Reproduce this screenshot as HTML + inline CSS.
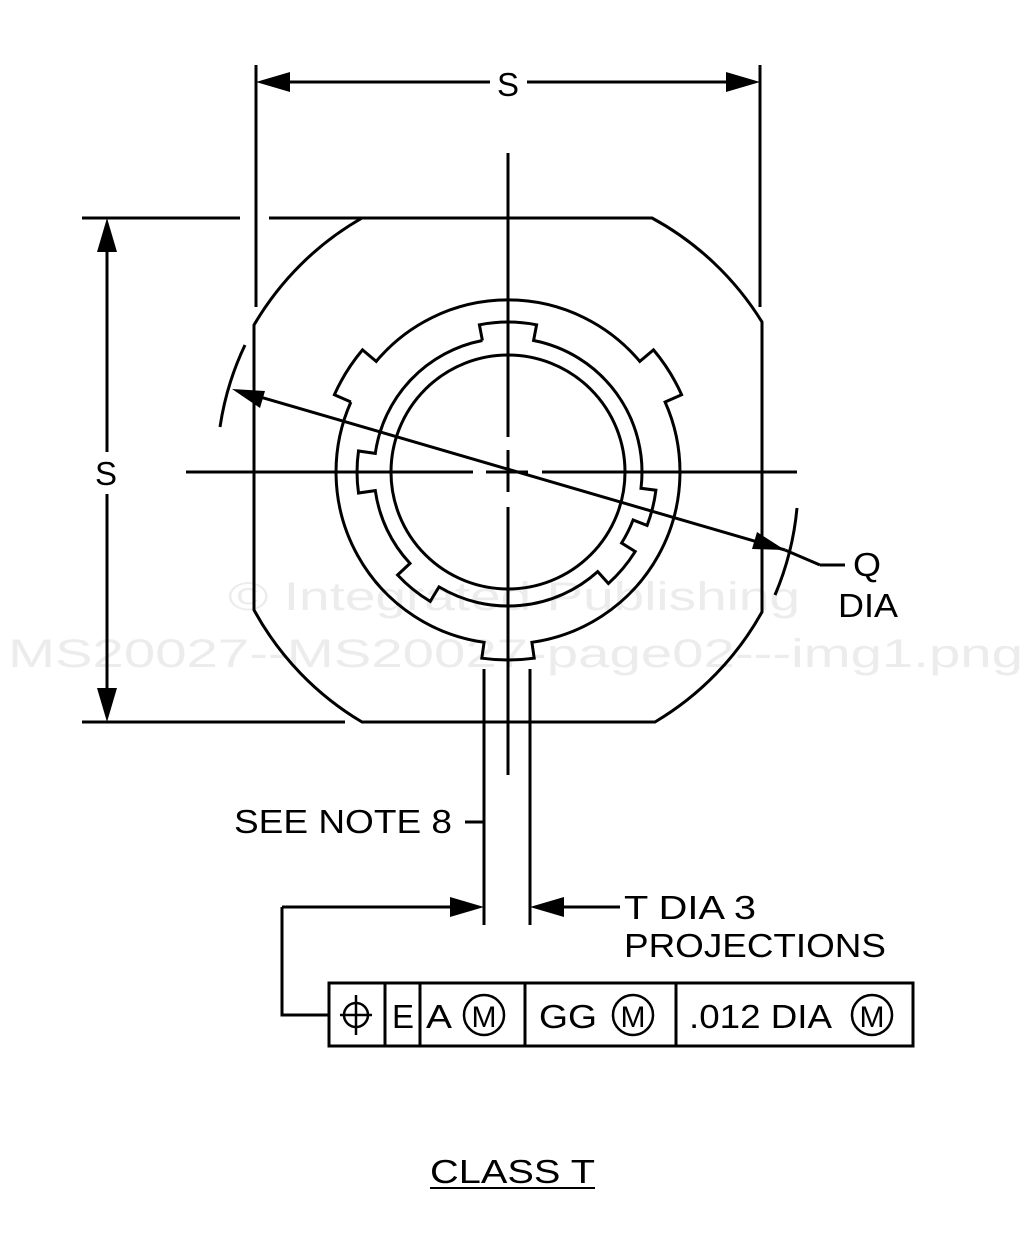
<!DOCTYPE html>
<html><head><meta charset="utf-8"><style>
html,body{margin:0;padding:0;background:#fff;}
svg{display:block}
text{font-family:"Liberation Sans",sans-serif;fill:#000}
</style></head><body>
<svg id="s" width="1031" height="1248" viewBox="0 0 1031 1248" xmlns="http://www.w3.org/2000/svg">
<g font-size="40">
<text x="228" y="610" textLength="572" lengthAdjust="spacingAndGlyphs" style="fill:#ececec">© Integrated Publishing</text>
<text x="8" y="667" textLength="1015" lengthAdjust="spacingAndGlyphs" style="fill:#ececec">MS20027--MS20027-page02---img1.png</text>
</g>
<g stroke="#000" stroke-width="3" fill="none">
<line x1="256" y1="65" x2="256" y2="307"/>
<line x1="760" y1="65" x2="760" y2="307"/>
<line x1="285" y1="82" x2="490" y2="82"/>
<line x1="527" y1="82" x2="732" y2="82"/>
<line x1="82" y1="218" x2="240" y2="218"/>
<line x1="82" y1="722" x2="345" y2="722"/>
<line x1="107" y1="245" x2="107" y2="452"/>
<line x1="107" y1="494" x2="107" y2="695"/>
<path d="M269 218 L362 218 A294 294 0 0 0 254 325 L254 610 A294 294 0 0 0 362 722 L655 722 A294 294 0 0 0 762 612 L762 322 A294 294 0 0 0 652 218 L362 218"/>
<circle cx="508" cy="472" r="117"/>
<path id="ring"/>
<path id="outer"/>
<line x1="508" y1="153" x2="508" y2="437"/>
<line x1="508" y1="450" x2="508" y2="492"/>
<line x1="508" y1="507" x2="508" y2="775"/>
<line x1="186" y1="472" x2="473" y2="472"/>
<line x1="486" y1="472" x2="528" y2="472"/>
<line x1="542" y1="472" x2="797" y2="472"/>
<line x1="250" y1="394" x2="785" y2="550"/>
<line x1="785" y1="550" x2="820" y2="565"/>
<line x1="820" y1="565" x2="845" y2="565"/>
<path d="M245 345 A290 290 0 0 0 220 427"/>
<path d="M797 508 A290 290 0 0 1 775 595"/>
<line x1="484" y1="669" x2="484" y2="925"/>
<line x1="530" y1="669" x2="530" y2="925"/>
<line x1="465" y1="822" x2="483" y2="822"/>
<line x1="282" y1="907" x2="460" y2="907"/>
<line x1="555" y1="907" x2="620" y2="907"/>
<polyline points="282,907 282,1015 330,1015"/>
<rect x="329" y="983" width="584" height="63"/>
<line x1="385" y1="983" x2="385" y2="1046"/>
<line x1="420" y1="983" x2="420" y2="1046"/>
<line x1="525" y1="983" x2="525" y2="1046"/>
<line x1="676" y1="983" x2="676" y2="1046"/>
<circle cx="356" cy="1015" r="12" stroke-width="2.5"/>
<line x1="356" y1="995" x2="356" y2="1035" stroke-width="2.5"/>
<line x1="340" y1="1015" x2="372" y2="1015" stroke-width="2.5"/>
<circle cx="484" cy="1015" r="20" stroke-width="2.5"/>
<circle cx="633" cy="1015" r="20" stroke-width="2.5"/>
<circle cx="872" cy="1015" r="20" stroke-width="2.5"/>
<line x1="430" y1="1188" x2="595" y2="1188" stroke-width="2"/>
</g>
<g fill="#000">
<polygon points="256,82 290,72 290,92"/>
<polygon points="760,82 726,72 726,92"/>
<polygon points="107,218 97,252 117,252"/>
<polygon points="107,722 97,688 117,688"/>
<polygon points="232,389 265,391 260,408"/>
<polygon points="785,550 752,549 757,532"/>
<polygon points="484,907 450,897 450,917"/>
<polygon points="530,907 564,897 564,917"/>
</g>
<g font-size="33">
<text x="508" y="96" text-anchor="middle">S</text>
<text x="106" y="485" text-anchor="middle">S</text>
<text x="853" y="576" textLength="28" lengthAdjust="spacingAndGlyphs">Q</text>
<text x="838" y="617" textLength="60" lengthAdjust="spacingAndGlyphs">DIA</text>
<text x="234" y="833" textLength="218" lengthAdjust="spacingAndGlyphs">SEE NOTE 8</text>
<text x="624" y="919" textLength="132" lengthAdjust="spacingAndGlyphs">T  DIA 3</text>
<text x="624" y="957" textLength="262" lengthAdjust="spacingAndGlyphs">PROJECTIONS</text>
<text x="392" y="1028" textLength="22" lengthAdjust="spacingAndGlyphs">E</text>
<text x="426" y="1028" textLength="26" lengthAdjust="spacingAndGlyphs">A</text>
<text x="484" y="1027" font-size="30" text-anchor="middle">M</text>
<text x="539" y="1028" textLength="58" lengthAdjust="spacingAndGlyphs">GG</text>
<text x="633" y="1027" font-size="30" text-anchor="middle">M</text>
<text x="689" y="1028" textLength="143" lengthAdjust="spacingAndGlyphs">.012 DIA</text>
<text x="872" y="1027" font-size="30" text-anchor="middle">M</text>
<text x="430" y="1183" textLength="165" lengthAdjust="spacingAndGlyphs">CLASS  T</text>
</g>
</svg>
<script>
(function(){
var cx=508,cy=472;
function P(r,a){a=a*Math.PI/180;return (cx+r*Math.cos(a)).toFixed(1)+" "+(cy+r*Math.sin(a)).toFixed(1);}
function build(r0,tabs){
 tabs.sort(function(a,b){return a[0]-b[0];});
 var d="",first=true;
 for(var i=0;i<tabs.length;i++){
  var t=tabs[i],a1=t[0]-t[1],a2=t[0]+t[1],r1=t[2];
  if(first){d+="M"+P(r0,a1);first=false;}
  else{d+=" A"+r0+" "+r0+" 0 0 1 "+P(r0,a1);}
  d+=" L"+P(r1,a1)+" A"+r1+" "+r1+" 0 0 1 "+P(r1,a2)+" L"+P(r0,a2);
 }
 var t0=tabs[0],last=tabs[tabs.length-1];
 var span=(t0[0]-t0[1]+360)-(last[0]+last[1]);
 d+=" A"+r0+" "+r0+" 0 "+(span>180?1:0)+" 1 "+P(r0,t0[0]-t0[1]);
 return d;
}
document.getElementById("ring").setAttribute("d",build(134,[[-90,11,150],[180,8,151],[14,7,149],[40,8,150],[129,8,151]]));
document.getElementById("outer").setAttribute("d",build(172,[[-148,8,190],[-32,8,190],[90,8,188]]));
})();
</script>
</body></html>
